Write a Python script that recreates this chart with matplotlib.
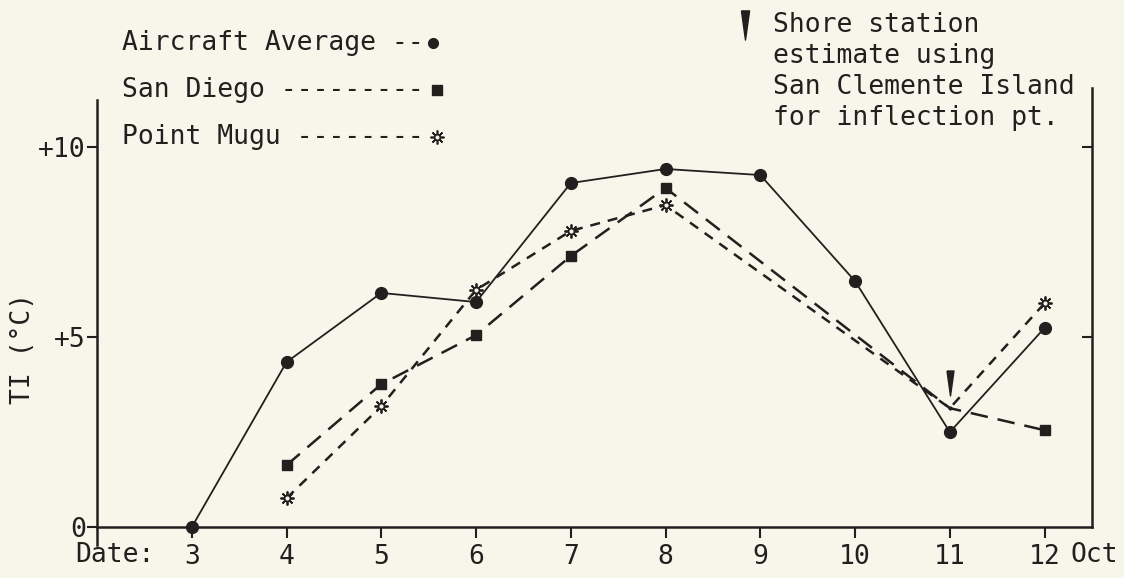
import matplotlib
matplotlib.use('Agg')
import matplotlib.pyplot as plt
import numpy as np

# ---data---
days = [3, 4, 5, 6, 7, 8, 9, 10, 11, 12]
tick_labels = ['3', '4', '5', '6', '7', '8', '9', '10', '11', '12']
aircraft = [0.0, 4.34, 6.16, 5.92, 9.05, 9.42, 9.26, 6.47, 2.50, 5.24]

sd_days = [4, 5, 6, 7, 8, 11, 12]
san_diego = [1.63, 3.76, 5.05, 7.13, 8.92, 3.13, 2.55]
sd_measured = [True, True, True, True, True, False, True]

pm_days = [4, 5, 6, 7, 8, 11, 12]
point_mugu = [0.76, 3.18, 6.24, 7.79, 8.47, 3.13, 5.89]
pm_measured = [True, True, True, True, True, False, True]

shore_day = 11
shore_est = 3.13
shore_arrow = 3.8

bg = '#f7f6ea'
ink = '#231f1f'
fs = 19
mono = ['DejaVu Sans Mono', 'DejaVu Sans']
plt.rcParams['font.family'] = mono

fig = plt.figure(figsize=(11.24, 5.78), dpi=100, facecolor=bg)
ax = fig.add_axes([0.0863, 0.057, 0.8852, 0.7908], facecolor=bg)

# narrow down-pointing arrowhead
arrow = [(-0.28, 1.0), (0.28, 1.0), (0.0, -1.0), (-0.28, 1.0)]

ax.plot(days, aircraft, color=ink, lw=1.3, marker='o', ms=8.5, zorder=4)

ax.plot(sd_days, san_diego, color=ink, lw=1.8, dashes=(7, 4), zorder=3)
ax.plot(np.array(sd_days)[sd_measured], np.array(san_diego)[sd_measured],
        ls='none', marker='s', ms=7, color=ink, zorder=4)

ax.plot(pm_days, point_mugu, color=ink, lw=1.8, dashes=(4, 3.2), zorder=3)
pmx = np.array(pm_days)[pm_measured]
pmy = np.array(point_mugu)[pm_measured]
ax.plot(pmx, pmy, ls='none', marker=(8, 2, 0), ms=10, mew=1.3, color=ink, zorder=4)
ax.plot(pmx, pmy, ls='none', marker='o', ms=4.2, mfc=bg, mec=ink, mew=1.2, zorder=5)

ax.plot([shore_day], [shore_est], ls='none', marker='.', ms=4, color=ink, zorder=5)
ax.plot([shore_day], [shore_arrow], ls='none', marker=arrow, ms=18, color=ink, zorder=5)

ax.set_xlim(2, 12.5)
ax.set_ylim(-0.47, 11.55)
ax.spines['top'].set_visible(False)
ax.spines['bottom'].set_position(('data', 0))
ax.spines['left'].set_bounds(-0.47, 11.24)
ax.spines['right'].set_bounds(0, 11.55)
for s in ax.spines.values():
    s.set_color(ink)
    s.set_linewidth(1.8)

ax.set_xticks(days)
ax.set_xticklabels(tick_labels)
ax.set_yticks([0, 5, 10])
ax.set_yticklabels(['0', '+5', '+10'])
ax.tick_params(axis='x', direction='out', length=8, width=1.5, colors=ink,
               labelsize=fs, pad=4)
ax.tick_params(axis='y', direction='out', length=7, width=1.5, colors=ink,
               labelsize=fs, pad=1)

# right spine ticks point inward
ax2 = ax.twinx()
ax2.set_ylim(ax.get_ylim())
ax2.set_yticks([5, 10])
ax2.set_yticklabels([])
ax2.tick_params(axis='y', direction='in', length=7, width=1.5, colors=ink)
for s in ax2.spines.values():
    s.set_visible(False)

ax.set_ylabel('TI (°C)', fontsize=fs, color=ink, va='center', ha='center')
ax.yaxis.set_label_coords(-0.074, 0.43)

ax.text(2.19, -0.74, 'Date:', ha='center', va='center', fontsize=fs, color=ink)
ax.text(12.53, -0.74, 'Oct', ha='center', va='center', fontsize=fs, color=ink,
        clip_on=False)

# typed legend
leg_text = ['Aircraft Average --', 'San Diego ---------', 'Point Mugu --------']
leg_y = [0.9256, 0.8443, 0.763]
for t, y in zip(leg_text, leg_y):
    fig.text(0.1085, y, t, ha='left', va='center', fontsize=fs, color=ink)
ft = fig.transFigure
ax.plot([0.385], [leg_y[0]], transform=ft, clip_on=False, marker='o', ms=7, color=ink)
ax.plot([0.389], [leg_y[1]], transform=ft, clip_on=False, marker='s', ms=6.5, color=ink)
ax.plot([0.389], [leg_y[2]], transform=ft, clip_on=False, marker=(8, 2, 0), ms=10,
        mew=1.2, color=ink)
ax.plot([0.389], [leg_y[2]], transform=ft, clip_on=False, marker='o', ms=4, mfc=bg,
        mec=ink, mew=1.1)

ax.plot([0.663], [0.956], transform=ft, clip_on=False, marker=arrow, ms=21, color=ink)
fig.text(0.688, 0.98, 'Shore station\nestimate using\nSan Clemente Island\nfor inflection pt.',
         ha='left', va='top', fontsize=fs, color=ink, linespacing=1.25)

fig.savefig('out.png', dpi=100, facecolor=bg)
